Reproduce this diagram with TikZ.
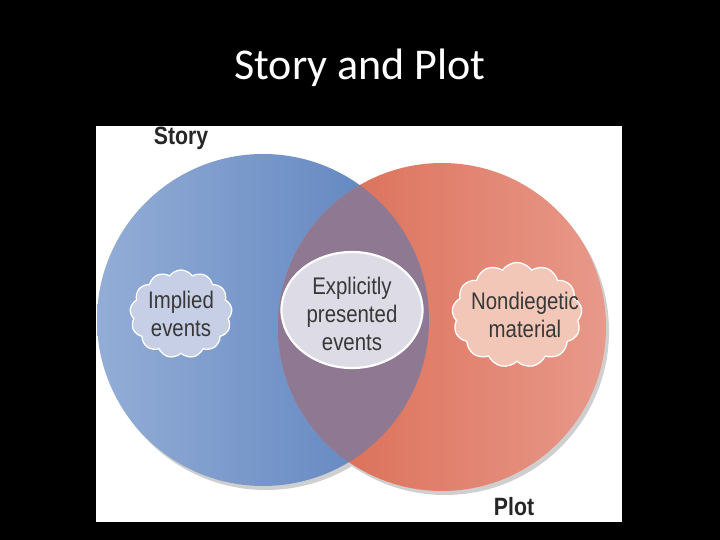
\documentclass[tikz,border=0pt]{standalone}
\usepackage{fontspec}
\setmainfont{Liberation Sans}
\newfontfamily\narrowfont[FakeStretch=0.85]{Liberation Sans}
\newfontfamily\titlefont{Carlito}
\usetikzlibrary{shapes.symbols,shapes.geometric}
\definecolor{blueL}{HTML}{93ADD6}
\definecolor{blueR}{HTML}{5A80BD}
\definecolor{redL}{HTML}{D9684F}
\definecolor{redR}{HTML}{E8998A}
\definecolor{overlapc}{HTML}{8F7891}
\definecolor{shadowc}{HTML}{CFCFCF}
\definecolor{ellfill}{HTML}{DDDCE6}
\definecolor{implfill}{HTML}{C6CFE6}
\definecolor{nondfill}{HTML}{F2C7B8}
\definecolor{textc}{HTML}{383838}
\tikzset{
  lbl/.style={text=textc, font=\narrowfont\fontsize{24}{28}\selectfont, align=center, inner sep=0pt},
  setlabel/.style={text=black!85, font=\narrowfont\bfseries\fontsize{25}{28}\selectfont, inner sep=0pt},
  puff/.style={cloud, cloud puffs=13, cloud puff arc=110, draw=white, line width=1.3pt, inner sep=0pt}
}
\begin{document}
\begin{tikzpicture}[x=1pt,y=-1pt]
\fill[black] (0,0) rectangle (720,540);
\useasboundingbox (0,0) rectangle (720,540);
\node[text=white, font=\titlefont\fontsize{44}{50}\selectfont] (title) at (360,68) {Story and Plot};
\fill[white] (96,126) rectangle (622,522);
% shadows
\fill[shadowc] (266,324) circle[radius=166pt];
\fill[shadowc] (445,331) circle[radius=164pt];
% circles
\shade[left color=blueL, right color=blueR] (263,320) circle[radius=166pt];
\shade[left color=redL, right color=redR] (442,327) circle[radius=164pt];
\begin{scope}
  \clip (263,320) circle[radius=166pt];
  \fill[overlapc] (442,327) circle[radius=164pt];
\end{scope}
% labels
\node[setlabel] (story) at (181,138) {Story};
\node[setlabel] (plot) at (514,507) {Plot};
% inner shapes
\node[puff, fill=implfill, minimum width=102pt, minimum height=88pt] (implcloud) at (181,314) {};
\node[lbl] (impl) at (181,314) {Implied\\events};
\node[ellipse, draw=white, line width=2.2pt, fill=ellfill, minimum width=141pt, minimum height=116pt] (ell) at (352,310) {};
\node[lbl] (expl) at (352,314) {Explicitly\\presented\\events};
\node[puff, fill=nondfill, minimum width=130pt, minimum height=105pt] (nondcloud) at (517,315) {};
\node[lbl] (nond) at (525,315) {Nondiegetic\\material};
\end{tikzpicture}
\end{document}
